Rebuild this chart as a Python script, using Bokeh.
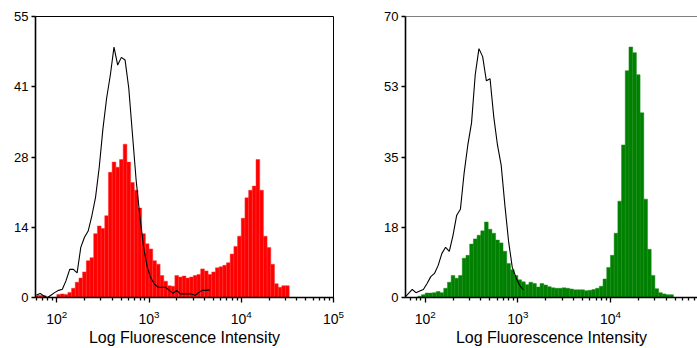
import numpy as np
from bokeh.plotting import figure
from bokeh.models import Range1d, FixedTicker, Span
from bokeh.layouts import row
from bokeh.embed import file_html
from bokeh.resources import INLINE

# histogram bins: centres in log10 units, regular grid
BIN_START = 1.78
BIN_STEP = 0.04

# left panel (red sample) counts per bin
red_counts = [0.4, 0.4, 0.4, 0, 0, 0, 0.6, 0.7, 0.6, 1.0,
              1.8, 3.0, 3.8, 5.0, 7.2, 7.8, 12.5, 14.0, 13.5, 16.0,
              24.5, 26.5, 25.5, 27.0, 30.0, 26.5, 22.5, 21.0, 17.5, 12.5,
              10.5, 9.5, 7.2, 6.5, 4.3, 3.2, 2.3, 2.2, 4.3, 4.0,
              4.2, 3.8, 4.0, 4.3, 4.5, 5.6, 5.2, 4.5, 5.0, 5.8,
              6.0, 6.3, 6.8, 8.5, 10.0, 12.0, 15.5, 19.5, 21.0, 21.8,
              27.0, 21.0, 12.0, 9.8, 6.5, 2.7, 2.0, 2.3, 2.3]
# left panel control (black outline)
left_control = [0.5, 0.8, 0.3, 0, 0.5, 1.0, 1.4, 1.6, 3.3, 5.5,
                5.5, 4.8, 9.8, 11.8, 13.0, 16.0, 19.6, 25.5, 33.0, 39.0,
                43.5, 49.0, 45.5, 47.0, 46.5, 41.0, 32.0, 23.0, 16.0, 10.0,
                6.0, 3.8, 2.6, 2.0, 2.0, 2.0, 1.4, 0.8, 1.4, 0.7,
                0.7, 0.7, 0.7, 0.4, 1.0, 1.4, 1.4, 1.5]
# right panel (green sample)
green_counts = [0, 0, 0, 0, 0.3, 0.7, 1.1, 1.1, 1.2, 1.5,
                1.2, 2.3, 3.8, 5.5, 4.8, 5.5, 9.8, 10.5, 13.3, 14.6,
                15.5, 16.6, 18.8, 17.0, 16.0, 14.3, 13.6, 11.5, 8.5, 6.9,
                5.5, 4.4, 3.9, 3.2, 3.8, 3.5, 2.6, 3.5, 3.1, 2.7,
                2.4, 2.3, 2.3, 2.4, 2.3, 2.1, 1.9, 1.9, 1.9, 1.7,
                1.8, 2.0, 2.3, 2.8, 4.6, 7.5, 10.5, 16.0, 24.0, 38.0,
                56.5, 62.4, 61.0, 55.5, 46.0, 24.5, 12.0, 5.5, 2.2, 1.2,
                0.9, 0.7, 0.7, 0]
right_control = [0, 1.0, 2.0, 1.2, 1.6, 2.0, 3.5, 5.2, 6.0, 8.0,
                 11.0, 12.5, 11.5, 15.5, 20.5, 22.0, 31.0, 38.0, 43.5, 55.5,
                 62.0, 60.0, 54.0, 54.5, 45.0, 38.0, 33.0, 23.0, 14.0, 7.5,
                 5.0, 3.0, 1.9]

left_yticks = [0, 13.75, 27.5, 41.25, 55]
left_ylabels = ["0", "14", "28", "41", "55"]
right_yticks = [0, 17.5, 35, 52.5, 70]
right_ylabels = ["0", "18", "35", "53", "70"]
x_major_ticks = [1e2, 1e3, 1e4, 1e5]
x_label = "Log Fluorescence Intensity"

FONT = "Liberation Sans"


def make_panel(width, bl, br, x_lo, x_hi, y_hi, yticks, ylabels,
               counts, control, fill, stripe, full_outline):
    p = figure(width=width, height=348, x_axis_type="log",
               x_range=Range1d(10 ** x_lo, 10 ** x_hi),
               y_range=Range1d(0, y_hi),
               output_backend="svg", toolbar_location=None,
               min_border_left=bl, min_border_right=br,
               min_border_top=16, min_border_bottom=51)
    p.xgrid.visible = False
    p.ygrid.visible = False
    p.background_fill_color = "white"
    p.border_fill_color = "white"
    if full_outline:
        p.outline_line_color = "black"
        p.outline_line_width = 1
    else:
        p.outline_line_color = None
        p.add_layout(Span(location=y_hi, dimension="width",
                          line_color="black", line_width=1.2))

    centres = BIN_START + BIN_STEP * np.arange(len(counts))
    p.quad(left=10 ** (centres - BIN_STEP / 2), right=10 ** (centres + BIN_STEP / 2),
           bottom=0, top=counts, fill_color=fill, line_color=stripe, line_width=0.5)

    c_centres = BIN_START + BIN_STEP * np.arange(len(control))
    p.line(10 ** c_centres, control, line_color="black", line_width=1.1)

    minor = [m * 10 ** e for e in range(1, 5) for m in range(2, 10)]
    xa = p.xaxis[0]
    xa.ticker = FixedTicker(ticks=x_major_ticks, minor_ticks=minor)
    xa.axis_line_color = "black"
    xa.axis_line_width = 1.6
    xa.major_tick_in = 0
    xa.major_tick_out = 5
    xa.minor_tick_in = 0
    xa.minor_tick_out = 3
    xa.major_tick_line_width = 1.3
    xa.minor_tick_line_width = 1.3
    xa.major_label_text_font = FONT
    xa.major_label_text_font_size = "14px"
    xa.major_label_text_color = "black"
    xa.major_label_standoff = 7
    xa.axis_label = x_label
    xa.axis_label_text_font = FONT
    xa.axis_label_text_font_size = "16px"
    xa.axis_label_text_font_style = "normal"
    xa.axis_label_text_color = "black"
    xa.axis_label_standoff = 2

    ya = p.yaxis[0]
    ya.ticker = FixedTicker(ticks=yticks)
    ya.major_label_overrides = {t: l for t, l in zip(yticks, ylabels)}
    ya.axis_line_color = "black"
    ya.axis_line_width = 1.6
    ya.major_tick_in = 0
    ya.major_tick_out = 4
    ya.major_tick_line_width = 1.3
    ya.minor_tick_line_color = None
    ya.major_label_text_font = FONT
    ya.major_label_text_font_size = "13px"
    ya.major_label_text_color = "black"
    ya.major_label_standoff = 3
    return p


p1 = make_panel(370, 35, 37, 1.769, 5.0, 55, left_yticks, left_ylabels,
                red_counts, left_control, "#ff0000", "#ff2e2e", True)
p2 = make_panel(327, 35, 0, 1.787, 4.94, 70, right_yticks, right_ylabels,
                green_counts, right_control, "#008000", "#168c16", False)

layout = row(p1, p2)
open("out.html", "w").write(file_html(layout, INLINE))
